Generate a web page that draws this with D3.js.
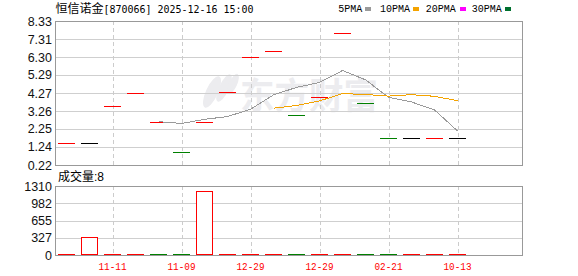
<!DOCTYPE html>
<html><head><meta charset="utf-8">
<script src="https://cdn.jsdelivr.net/npm/d3@7"></script>
<style>html,body{margin:0;padding:0;background:#fff;}svg{display:block}</style>
</head><body><svg id="c" width="578" height="276"></svg>
<script>
// ---- data ----
const stockName = "恒信诺金";
const stockInfo = "[870066] 2025-12-16 15:00";
const closes = [1.45,1.45,3.52,4.25,2.62,0.94,2.62,4.31,6.30,6.66,3.02,4.03,7.65,3.69,1.75,1.75,1.75,1.75];
const candleDir = ["up","flat","up","up","up","down","up","up","up","up","down","up","up","down","down","flat","up","flat"];
const volumes = [4,350,3,5,2,3,1220,4,3,5,2,4,6,3,2,4,3,8];
const ma5 = [null,null,null,null,2.66,2.56,2.79,2.95,3.36,4.17,4.59,4.87,5.54,5.02,4.03,3.77,3.32,2.14];
const ma10 = [null,null,null,null,null,null,null,null,null,3.42,3.57,3.83,4.24,4.19,4.10,4.18,4.09,3.84];
const priceTicks = [0.22,1.24,2.25,3.26,4.27,5.29,6.30,7.31,8.33];
const priceTickLabels = ["0.22","1.24","2.25","3.26","4.27","5.29","6.30","7.31","8.33"];
const volTicks = [0,327,655,982,1310];
const xTickIndex = [2,5,8,11,14,17];
const xTickLabels = ["11-11","11-09","12-29","12-29","02-21","10-13"];
const maNames = ["5PMA","10PMA","20PMA","30PMA"];
const volumeLabel = "成交量";
const watermark = "东方财富";

// ---- layout/styles ----
const L = 55, R = 522, T = 21, B = 165, VT = 186, VB = 255;
const maColors = ["#9a9a9a","#f4a300","#ff00ff","#00702f"];
const dirColor = d3.scaleOrdinal().domain(["up","down","flat"]).range(["#ff0000","#008000","#000000"]);

const svg = d3.select("#c");
const idx = d3.range(closes.length);
const x = d3.scaleBand().domain(idx).range([L, L + 23*closes.length]).paddingInner(0.26).paddingOuter(0.13);
const xc = i => x(i) + x.bandwidth()/2;
const y = d3.scaleLinear().domain([0.22, 8.33]).range([B, T]);
const yv = d3.scaleLinear().domain([0, 1310]).range([VB, VT]);
const px = v => Math.round(v) + 0.5;

// watermark
const wm = svg.append("g").attr("fill", "#ececef");
wm.append("ellipse").attr("cx", 212).attr("cy", 92).attr("rx", 6).attr("ry", 17).attr("transform", "rotate(25 212 92)");
wm.append("ellipse").attr("cx", 224).attr("cy", 88).attr("rx", 5).attr("ry", 15).attr("transform", "rotate(25 224 88)");
wm.append("ellipse").attr("cx", 233).attr("cy", 84).attr("rx", 4).attr("ry", 11).attr("transform", "rotate(25 233 84)");
wm.append("text").attr("x", 240).attr("y", 109).attr("font-family", "Noto Sans CJK SC").attr("font-weight", "bold")
  .attr("font-size", 36).attr("textLength", 138).attr("lengthAdjust", "spacingAndGlyphs").text(watermark);

// horizontal grids
svg.append("g").selectAll("line").data(priceTicks.slice(1, -1)).join("line")
  .attr("x1", L).attr("x2", R).attr("y1", d => px(y(d))).attr("y2", d => px(y(d)))
  .attr("stroke", "#cfcfcf");
svg.append("g").selectAll("line").data(volTicks.slice(1, -1)).join("line")
  .attr("x1", L).attr("x2", R).attr("y1", d => px(yv(d))).attr("y2", d => px(yv(d)))
  .attr("stroke", "#cfcfcf");
// vertical dashed grids
[[T, B], [VT, VB]].forEach(([a, b]) => {
  svg.append("g").selectAll("line").data(xTickIndex).join("line")
    .attr("x1", d => px(xc(d))).attr("x2", d => px(xc(d))).attr("y1", a).attr("y2", b)
    .attr("stroke", "#cccccc").attr("stroke-dasharray", "4,3");
});

// frames
svg.append("rect").attr("x", L + 0.5).attr("y", T + 0.5).attr("width", R - L).attr("height", B - T)
  .attr("fill", "none").attr("stroke", "#999");
svg.append("rect").attr("x", L + 0.5).attr("y", VT + 0.5).attr("width", R - L).attr("height", VB - VT)
  .attr("fill", "none").attr("stroke", "#999");

// candles
svg.append("g").attr("shape-rendering", "crispEdges").selectAll("rect").data(idx).join("rect")
  .attr("x", i => Math.round(x(i))).attr("width", Math.round(x.bandwidth()))
  .attr("y", i => Math.round(y(closes[i]))).attr("height", 1)
  .attr("fill", i => dirColor(candleDir[i]));

// MA lines
[ma5, ma10].forEach((arr, k) => {
  const line = d3.line().defined(i => arr[i] != null).x(i => xc(i)).y(i => y(arr[i]));
  svg.append("path").attr("d", line(idx)).attr("fill", "none")
    .attr("stroke", maColors[k]).attr("stroke-width", 1).attr("shape-rendering", "crispEdges");
});

// volume bars
const volColor = i => (i === 0 || closes[i] >= closes[i-1]) ? "#ff0000" : "#008000";
svg.append("g").selectAll("rect").data(idx).join("rect")
  .attr("x", i => Math.round(x(i)) + 0.5).attr("width", Math.round(x.bandwidth()) - 1)
  .attr("y", i => Math.min(px(yv(volumes[i])), VB - 0.5))
  .attr("height", i => Math.max(0.01, (VB - 0.5) - Math.min(px(yv(volumes[i])), VB - 0.5)))
  .attr("fill", "#fff").attr("stroke", i => volColor(i));

// y labels
svg.append("g").selectAll("text").data(priceTicks).join("text")
  .attr("x", 52).attr("y", d => y(d) + 4.5).attr("text-anchor", "end")
  .attr("font-family", "Liberation Sans, Arial").attr("font-size", 12.5).attr("fill", "#111")
  .text((d, i) => priceTickLabels[i]);
svg.append("g").selectAll("text").data(volTicks).join("text")
  .attr("x", 52).attr("y", d => yv(d) + 4.5).attr("text-anchor", "end")
  .attr("font-family", "Liberation Sans, Arial").attr("font-size", 12.5).attr("fill", "#111")
  .text(d => d);

// x labels
svg.append("g").selectAll("text").data(xTickIndex).join("text")
  .attr("x", d => xc(d)).attr("y", 270).attr("text-anchor", "middle")
  .attr("font-family", "Liberation Mono, monospace").attr("font-size", 10).attr("fill", "#ff0000")
  .attr("textLength", 28).attr("lengthAdjust", "spacingAndGlyphs")
  .text((d, i) => xTickLabels[i]);

// title
const tt = svg.append("text").attr("x", 55.5).attr("y", 12.5).attr("fill", "#000");
tt.append("tspan").attr("font-family", "Noto Sans CJK SC").attr("font-size", 12).text(stockName);
tt.append("tspan").attr("font-family", "DejaVu Sans Mono, monospace").attr("font-size", 10.5)
  .attr("textLength", 150).attr("lengthAdjust", "spacingAndGlyphs").text(stockInfo);

// legend
const legX = [338.3, 380, 425.7, 471.7];
const legSq = [365, 413, 459.7, 505];
maNames.forEach((n, k) => {
  svg.append("text").attr("x", legX[k]).attr("y", 12.3)
    .attr("font-family", "Liberation Mono, monospace").attr("font-size", 11).attr("fill", "#000")
    .attr("textLength", n.length * 6).attr("lengthAdjust", "spacingAndGlyphs").text(n);
  svg.append("rect").attr("x", Math.round(legSq[k])).attr("y", 7).attr("width", 6).attr("height", 4)
    .attr("fill", maColors[k]);
});

// volume label
const vl = svg.append("text").attr("x", 58).attr("y", 181).attr("fill", "#000");
vl.append("tspan").attr("font-family", "Noto Sans CJK SC").attr("font-size", 12).text(volumeLabel);
vl.append("tspan").attr("font-family", "Liberation Sans, Arial").attr("font-size", 12).text(":" + volumes[volumes.length - 1]);
</script></body></html>
